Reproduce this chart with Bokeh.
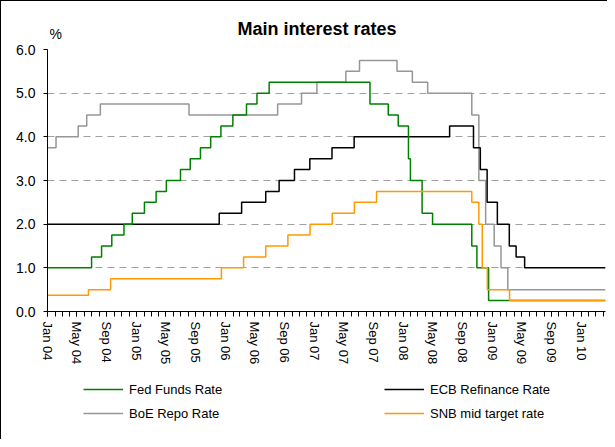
import pandas as pd
from bokeh.plotting import figure
from bokeh.layouts import column
from bokeh.models import (Range1d, FixedTicker, DatetimeTickFormatter, NumeralTickFormatter,
                          Legend, Label)
from bokeh.embed import file_html
from bokeh.resources import INLINE

# ---------------- data ----------------
TITLE = "Main interest rates"
Y_UNIT = "%"
START_DATE = "2004-01-01"
END_DATE = "2010-04-10"

fed_dates = ["2004-01-01", "2004-06-30", "2004-08-10", "2004-09-21", "2004-11-10", "2004-12-14",
             "2005-02-02", "2005-03-22", "2005-05-03", "2005-06-30", "2005-08-09", "2005-09-20",
             "2005-11-01", "2005-12-13", "2006-01-31", "2006-03-28", "2006-05-10", "2006-06-29",
             "2007-08-17", "2007-10-31", "2007-12-11", "2008-01-22", "2008-01-30", "2008-03-18",
             "2008-04-30", "2008-10-08", "2008-10-29", "2008-12-16"]
fed_values = [1.00, 1.25, 1.50, 1.75, 2.00, 2.25,
              2.50, 2.75, 3.00, 3.25, 3.50, 3.75,
              4.00, 4.25, 4.50, 4.75, 5.00, 5.25,
              4.75, 4.50, 4.25, 3.50, 3.00, 2.25,
              2.00, 1.50, 1.00, 0.25]

ecb_dates = ["2004-01-01", "2005-12-06", "2006-03-08", "2006-06-15", "2006-08-09", "2006-10-11",
             "2006-12-13", "2007-03-14", "2007-06-13", "2008-07-09", "2008-10-15", "2008-11-12",
             "2008-12-10", "2009-01-21", "2009-03-11", "2009-04-08", "2009-05-13"]
ecb_values = [2.00, 2.25, 2.50, 2.75, 3.00, 3.25,
              3.50, 3.75, 4.00, 4.25, 3.75, 3.25,
              2.50, 2.00, 1.50, 1.25, 1.00]

boe_dates = ["2004-01-01", "2004-02-05", "2004-05-06", "2004-06-10", "2004-08-05", "2005-08-04",
             "2006-08-03", "2006-11-09", "2007-01-11", "2007-05-10", "2007-07-05", "2007-12-06",
             "2008-02-07", "2008-04-10", "2008-10-08", "2008-11-06", "2008-12-04", "2009-01-08",
             "2009-02-05", "2009-03-05"]
boe_values = [3.75, 4.00, 4.25, 4.50, 4.75, 4.50,
              4.75, 5.00, 5.25, 5.50, 5.75, 5.50,
              5.25, 5.00, 4.50, 3.00, 2.00, 1.50,
              1.00, 0.50]

snb_dates = ["2004-01-01", "2004-06-17", "2004-09-16", "2005-12-15", "2006-03-16", "2006-06-15",
             "2006-09-14", "2006-12-14", "2007-03-15", "2007-06-14", "2007-09-13", "2008-10-08",
             "2008-11-06", "2008-11-20", "2008-12-11", "2009-03-12"]
snb_values = [0.375, 0.50, 0.75, 1.00, 1.25, 1.50,
              1.75, 2.00, 2.25, 2.50, 2.75, 2.50,
              2.00, 1.00, 0.50, 0.25]

series_names = ["Fed Funds Rate", "ECB Refinance Rate", "BoE Repo Rate", "SNB mid target rate"]
y_ticks = [0, 1, 2, 3, 4, 5, 6]

# ---------------- styles ----------------
FONT = "Liberation Sans"
C_FED = "#008000"
C_ECB = "#000000"
C_BOE = "#969696"
C_SNB = "#ff9900"
LW = 1.5
W = 606
BORDER = 1


def series(dates, values):
    x = pd.to_datetime(list(dates) + [END_DATE])
    y = list(values) + [values[-1]]
    return x, y


def blank_fig(height):
    f = figure(width=W, height=height, title=None, x_range=Range1d(0, W), y_range=Range1d(0, height),
               output_backend="svg", toolbar_location=None,
               x_axis_location=None, y_axis_location=None,
               min_border=0, min_border_left=0, min_border_right=0,
               min_border_top=0, min_border_bottom=0, frame_align=False)
    f.outline_line_color = None
    f.xgrid.visible = False
    f.ygrid.visible = False
    f.background_fill_color = "white"
    f.border_fill_color = "white"
    return f


# ---------------- header (title and unit) ----------------
HEAD_H = 41 - BORDER
head = blank_fig(HEAD_H)
head.add_layout(Label(x=316.5 - BORDER, y=HEAD_H - (28.8 - BORDER), text=TITLE, text_font=FONT,
                      text_font_style="bold", text_font_size="18px", text_align="center",
                      text_baseline="middle", text_color="black"))
head.add_layout(Label(x=49 - BORDER, y=HEAD_H - (33 - BORDER), text=Y_UNIT, text_font=FONT,
                      text_font_size="14px", text_align="left", text_baseline="middle",
                      text_color="black"))

# ---------------- main chart ----------------
start = pd.Timestamp(START_DATE)
end = pd.Timestamp(END_DATE)

p = figure(width=W, height=335, title=None, x_axis_type="datetime",
           x_range=Range1d(start, end), y_range=Range1d(0, 6),
           output_backend="svg", toolbar_location=None,
           min_border_left=47 - BORDER, min_border_right=2, min_border_top=8, min_border_bottom=65,
           frame_align=False)
p.outline_line_color = None
p.background_fill_color = "white"
p.border_fill_color = "white"

x, y = series(boe_dates, boe_values)
r_boe = p.step(x, y, mode="after", line_color=C_BOE, line_width=LW)
x, y = series(ecb_dates, ecb_values)
r_ecb = p.step(x, y, mode="after", line_color=C_ECB, line_width=LW)
x, y = series(fed_dates, fed_values)
r_fed = p.step(x, y, mode="after", line_color=C_FED, line_width=LW)
x, y = series(snb_dates, snb_values)
r_snb = p.step(x, y, mode="after", line_color=C_SNB, line_width=LW)

major = pd.date_range(START_DATE, "2010-01-01", freq="4MS")
minor = pd.date_range(START_DATE, END_DATE, freq="MS")
to_ms = lambda d: (d - pd.Timestamp("1970-01-01")) / pd.Timedelta(milliseconds=1)
p.xaxis.ticker = FixedTicker(ticks=[to_ms(d) for d in major], minor_ticks=[to_ms(d) for d in minor])
fmt = "%b %y"
p.xaxis.formatter = DatetimeTickFormatter(microseconds=fmt, milliseconds=fmt, seconds=fmt,
                                          minsec=fmt, minutes=fmt, hourmin=fmt, hours=fmt,
                                          days=fmt, months=fmt, years=fmt)
p.xaxis.major_label_orientation = "vertical"
p.xaxis.major_label_text_font = FONT
p.xaxis.major_label_text_font_size = "13px"
p.xaxis.major_label_text_color = "black"
p.xaxis.major_label_standoff = 5
p.xaxis.axis_line_color = "black"
p.xaxis.major_tick_line_color = "black"
p.xaxis.minor_tick_line_color = "black"
p.xaxis.major_tick_out = 5
p.xaxis.major_tick_in = 0
p.xaxis.minor_tick_out = 5
p.xaxis.minor_tick_in = 0
p.xgrid.visible = False

p.yaxis.ticker = FixedTicker(ticks=y_ticks)
p.yaxis.formatter = NumeralTickFormatter(format="0.0")
p.yaxis.major_label_text_font = FONT
p.yaxis.major_label_text_font_size = "14px"
p.yaxis.major_label_text_color = "black"
p.yaxis.major_label_standoff = 8
p.yaxis.axis_line_color = "black"
p.yaxis.major_tick_line_color = "black"
p.yaxis.major_tick_out = 4
p.yaxis.major_tick_in = 0
p.yaxis.minor_tick_line_color = None
p.ygrid.ticker = FixedTicker(ticks=y_ticks)
p.ygrid.grid_line_color = "#a0a0a0"
p.ygrid.grid_line_dash = "7 5"
p.ygrid.grid_line_width = 1

# ---------------- legend strip ----------------
LEG_H = 63
leg = blank_fig(LEG_H)
proxies = {}
for name, color in zip(series_names, [C_FED, C_ECB, C_BOE, C_SNB]):
    proxies[name] = leg.line(x=[0, 1], y=[-100, -100], line_color=color, line_width=LW)


def make_legend(names, loc):
    lg = Legend(items=[(n, [proxies[n]]) for n in names], location=loc, orientation="vertical",
                padding=0, margin=0, spacing=4, glyph_width=40, glyph_height=20,
                label_height=20, label_standoff=6,
                label_text_font=FONT, label_text_font_size="13px", label_text_color="black",
                background_fill_alpha=0, border_line_alpha=0)
    leg.add_layout(lg, "center")


make_legend([series_names[0], series_names[2]], (83 - BORDER, 16))
make_legend([series_names[1], series_names[3]], (384 - BORDER, 16))

layout = column(head, p, leg, spacing=0,
                styles={"border-left": "1px solid black", "border-top": "1px solid black"})
open("out.html", "w").write(file_html(layout, INLINE))
